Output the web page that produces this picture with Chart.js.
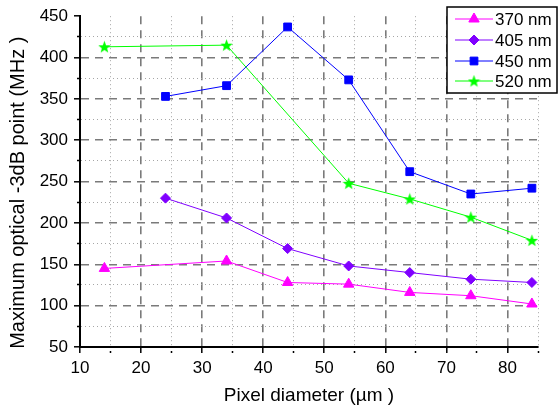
<!DOCTYPE html>
<html>
<head>
<meta charset="utf-8">
<script src="https://cdn.jsdelivr.net/npm/chart.js@4.4.0/dist/chart.umd.min.js"></script>
<style>
  html, body { margin: 0; padding: 0; background: #fff; }
  #wrap { width: 558px; height: 411px; }
</style>
</head>
<body>
<div id="wrap"><canvas id="chart" width="558" height="411"></canvas></div>
<script>
"use strict";

// pixel diameters (um)
const diameters = [14, 24, 34, 44, 54, 64, 74, 84];

// max optical -3dB bandwidth (MHz), null = not measured
const bw370 = [145, null, 154, 128, 126, 116, 112, 102];
const bw405 = [null, 230, 206, 169, 148, 140, 132, 128];
const bw450 = [null, 353, 366, 437, 373, 262, 235, 242];
const bw520 = [413, null, 415, null, 248, 229, 207, 179];

const seriesNames = ['370 nm', '405 nm', '450 nm', '520 nm'];
const seriesColors = ['#ff00ff', '#8000ff', '#0000ff', '#00ff00'];

const xTicksMajor = 10;
const yTicksMajor = 50;

const FONT = '"Liberation Sans", Arial, sans-serif';

function toPoints(values)
{
    const pts = [];
    values.forEach((v, i) => {
        if (v !== null) pts.push({x: diameters[i], y: v});
    });
    return pts;
}

// filled 5 point star used as marker
function makeStar(color, size)
{
    const c = document.createElement('canvas');
    c.width = size;
    c.height = size;
    const g = c.getContext('2d');
    const cx = size / 2, cy = size / 2 + 0.6;
    const R = size / 2, r = R * 0.42;
    g.beginPath();
    for (let i = 0; i < 10; i++) {
        const rad = i % 2 === 0 ? R : r;
        const a = -Math.PI / 2 + i * Math.PI / 5;
        const px = cx + rad * Math.cos(a);
        const py = cy + rad * Math.sin(a);
        if (i === 0) g.moveTo(px, py); else g.lineTo(px, py);
    }
    g.closePath();
    g.fillStyle = color;
    g.fill();
    return c;
}

const starImg = makeStar(seriesColors[3], 13);

const pointStyles = ['triangle', 'rectRot', 'rect', starImg];
const pointRadii = [6, 5, 5.5, 6];

// legend drawn in a framed box, line + marker like the original
const boxLegend = {
    id: 'boxLegend',
    afterDraw(chart) {
        const ctx = chart.ctx;
        const x0 = 447, y0 = 7, w = 110, h = 86;
        ctx.save();
        ctx.fillStyle = '#fff';
        ctx.fillRect(x0, y0, w, h);
        ctx.strokeStyle = '#000';
        ctx.lineWidth = 1.5;
        ctx.strokeRect(x0, y0, w, h);
        ctx.font = '17px ' + FONT;
        ctx.textBaseline = 'middle';
        const rows = [19, 40, 61, 81];
        chart.data.datasets.forEach((ds, i) => {
            const y = rows[i];
            ctx.strokeStyle = ds.borderColor;
            ctx.lineWidth = 1;
            ctx.beginPath();
            ctx.moveTo(455, y);
            ctx.lineTo(493, y);
            ctx.stroke();
            ctx.fillStyle = ds.pointBackgroundColor;
            ctx.strokeStyle = ds.pointBorderColor;
            Chart.helpers.drawPoint(ctx, {
                pointStyle: ds.pointStyle,
                radius: ds.pointRadius,
                rotation: 0,
                borderWidth: 1
            }, 474, y);
            ctx.fillStyle = '#000';
            ctx.fillText(ds.label, 495, y + 1);
        });
        ctx.restore();
    }
};

const datasets = [bw370, bw405, bw450, bw520].map((vals, i) => ({
    label: seriesNames[i],
    data: toPoints(vals),
    borderColor: seriesColors[i],
    borderWidth: 1,
    pointStyle: pointStyles[i],
    pointRadius: pointRadii[i],
    pointHoverRadius: pointRadii[i],
    pointBackgroundColor: seriesColors[i],
    pointBorderColor: seriesColors[i],
    pointBorderWidth: 1,
    showLine: true,
    tension: 0,
    fill: false
}));

function gridColor(isMajorFn, topValue)
{
    return ctx => {
        if (!ctx.tick) return '#000';
        if (topValue !== undefined && ctx.tick.value === topValue) return 'rgba(0,0,0,0)';
        return isMajorFn(ctx.tick.value) ? '#7a7a7a' : '#a6a6a6';
    };
}

const isMajorX = v => v % xTicksMajor === 0;
const isMajorY = v => v % yTicksMajor === 0;

new Chart(document.getElementById('chart'), {
    type: 'scatter',
    data: { datasets },
    plugins: [boxLegend],
    options: {
        responsive: false,
        animation: false,
        events: [],
        layout: { padding: { top: 11, right: 20, left: 0, bottom: 0 } },
        plugins: {
            legend: { display: false },
            tooltip: { enabled: false }
        },
        scales: {
            x: {
                type: 'linear',
                min: 10,
                max: 85,
                afterFit: s => { s.height = 64; },
                ticks: {
                    stepSize: 5,
                    autoSkip: false,
                    maxRotation: 0,
                    padding: 5,
                    color: '#000',
                    font: { family: FONT, size: 17 },
                    callback: v => isMajorX(v) ? v : ''
                },
                grid: {
                    color: gridColor(isMajorX),
                    lineWidth: ctx => ctx.tick && isMajorX(ctx.tick.value) ? 1.6 : 1,
                    tickColor: '#000',
                    tickLength: 6,
                    tickWidth: 1.5,
                    tickBorderDash: ctx => ctx.tick && isMajorX(ctx.tick.value) ? [] : [0, 3, 3, 100]
                },
                border: {
                    color: '#000',
                    width: 2,
                    dash: ctx => ctx.tick && isMajorX(ctx.tick.value) ? [8, 6] : [1, 3]
                },
                title: {
                    display: true,
                    text: 'Pixel diameter (µm )',
                    color: '#000',
                    font: { family: FONT, size: 19 },
                    padding: { top: 6, bottom: 4 }
                }
            },
            y: {
                type: 'linear',
                min: 50,
                max: 450,
                afterFit: s => { s.width = 80; },
                ticks: {
                    stepSize: 25,
                    autoSkip: false,
                    padding: 6,
                    color: '#000',
                    font: { family: FONT, size: 17 },
                    callback: v => isMajorY(v) ? v : ''
                },
                grid: {
                    color: gridColor(isMajorY, 450),
                    lineWidth: ctx => ctx.tick && isMajorY(ctx.tick.value) ? 1.6 : 1,
                    tickColor: '#000',
                    tickLength: 6,
                    tickWidth: 1.5,
                    tickBorderDash: ctx => ctx.tick && isMajorY(ctx.tick.value) ? [] : [0, 3, 3, 100]
                },
                border: {
                    color: '#000',
                    width: 2,
                    dash: ctx => ctx.tick && isMajorY(ctx.tick.value) ? [8, 6] : [1, 3]
                },
                title: {
                    display: true,
                    // trailing spaces push the rotated label a little lower, as in the original
                    text: 'Maximum optical -3dB point (MHz )    ',
                    color: '#000',
                    font: { family: FONT, size: 20 },
                    padding: { top: 6, bottom: 0 }
                }
            }
        }
    }
});
</script>
</body>
</html>
